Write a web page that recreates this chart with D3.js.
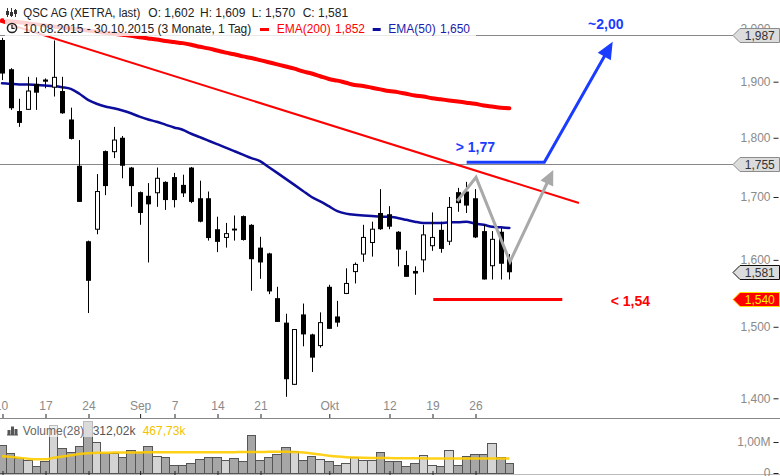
<!DOCTYPE html>
<html><head><meta charset="utf-8">
<script src="https://cdn.jsdelivr.net/npm/d3@7"></script>
<style>
html,body{margin:0;padding:0;background:#fff;}
svg{display:block;font-family:"Liberation Sans",Arial,Helvetica,sans-serif;}
</style></head><body>
<svg id="c" width="780" height="476"></svg>
<script>
// ---------- DATA ----------
const title = "QSC AG (XETRA, last)";
const period = "10.08.2015 - 30.10.2015 (3 Monate, 1 Tag)";
const tickIdx = [0,5,10,16,20,25,30,38,45,50,55];
const tickLab = ["10","17","24","Sep","7","14","21","Okt","12","19","26"];
const priceTicks = [1.4,1.5,1.6,1.7,1.8,1.9,2.0];

const open  = [1.978,1.923,1.847,1.850,1.896,1.904,1.890,1.883,1.832,1.752,1.629,1.648,1.777,1.776,1.800,1.749,1.708,1.702,1.707,1.725,1.733,1.720,1.749,1.698,1.698,1.648,1.635,1.649,1.669,1.655,1.619,1.610,1.542,1.506,1.419,1.518,1.489,1.473,1.559,1.515,1.549,1.582,1.609,1.627,1.674,1.672,1.644,1.592,1.583,1.600,1.622,1.647,1.629,1.708,1.709,1.698,1.645,1.591,1.644,1.602];
const high  = [1.982,1.925,1.869,1.909,1.908,1.906,1.977,1.909,1.853,1.796,1.630,1.738,1.778,1.819,1.803,1.750,1.709,1.723,1.749,1.726,1.740,1.737,1.750,1.727,1.709,1.668,1.658,1.670,1.670,1.656,1.636,1.611,1.559,1.519,1.496,1.534,1.490,1.521,1.562,1.538,1.587,1.596,1.655,1.660,1.713,1.685,1.645,1.614,1.590,1.655,1.675,1.660,1.700,1.715,1.725,1.713,1.655,1.645,1.650,1.609];
const low   = [1.903,1.849,1.819,1.849,1.849,1.888,1.873,1.842,1.797,1.692,1.520,1.640,1.703,1.765,1.731,1.684,1.655,1.596,1.684,1.679,1.683,1.700,1.690,1.659,1.630,1.612,1.619,1.630,1.630,1.553,1.571,1.548,1.507,1.402,1.418,1.472,1.436,1.470,1.497,1.500,1.548,1.564,1.597,1.605,1.647,1.648,1.590,1.574,1.547,1.581,1.614,1.611,1.623,1.676,1.674,1.634,1.570,1.570,1.570,1.570];
const close = [1.915,1.852,1.826,1.883,1.880,1.900,1.908,1.843,1.798,1.692,1.568,1.709,1.718,1.796,1.752,1.718,1.674,1.688,1.731,1.695,1.695,1.706,1.692,1.660,1.634,1.628,1.641,1.646,1.631,1.601,1.596,1.552,1.507,1.426,1.496,1.489,1.456,1.506,1.497,1.506,1.564,1.593,1.635,1.648,1.648,1.652,1.616,1.574,1.579,1.639,1.635,1.617,1.683,1.690,1.686,1.635,1.570,1.632,1.594,1.581];

const ema200 = [2.016,2.014,2.012,2.010,2.008,2.006,2.004,2.002,2.000,1.998,1.996,1.994,1.992,1.990,1.988,1.986,1.983,1.981,1.979,1.976,1.974,1.972,1.969,1.965,1.962,1.958,1.954,1.951,1.947,1.944,1.940,1.936,1.932,1.928,1.924,1.919,1.915,1.910,1.905,1.902,1.898,1.894,1.892,1.889,1.886,1.883,1.881,1.878,1.875,1.873,1.870,1.868,1.866,1.864,1.862,1.860,1.857,1.855,1.853,1.852];
const ema50  = [1.897,1.896,1.895,1.895,1.894,1.893,1.892,1.890,1.887,1.878,1.867,1.860,1.855,1.852,1.848,1.843,1.837,1.832,1.828,1.823,1.818,1.814,1.807,1.801,1.795,1.789,1.783,1.777,1.771,1.765,1.760,1.750,1.740,1.730,1.720,1.710,1.700,1.693,1.685,1.677,1.673,1.671,1.670,1.669,1.668,1.668,1.666,1.663,1.660,1.658,1.658,1.658,1.659,1.659,1.660,1.657,1.655,1.652,1.651,1.650];

// volume in thousands
const volume = [893,645,473,409,215,376,1538,796,667,860,1688,989,645,645,505,731,667,860,538,505,247,247,312,441,505,505,409,473,376,1215,409,505,602,828,699,409,538,441,376,247,312,505,409,409,667,376,376,215,312,570,247,215,731,247,538,602,602,957,505,312.02];
const volumeMA = [540,520,490,460,440,440,490,530,570,610,640,650,655,660,660,662,665,667,667,667,667,667,667,667,667,668,670,672,675,678,680,682,684,684,675,660,630,595,560,530,510,500,490,485,485,480,478,475,473,472,471,470,470,470,470,469,469,468,468,467.73];
const volTicks = [0,1000];

// horizontal levels and price markers
const hLines = [1.987, 1.755];
const markers = [
  {v:1.987, fill:"#dcdcdc", stroke:"#8c8c8c", text:"#333"},
  {v:1.755, fill:"#dcdcdc", stroke:"#8c8c8c", text:"#333"},
  {v:1.581, fill:"#dcdcdc", stroke:"#111",    text:"#333"},
  {v:1.540, fill:"#ff0000", stroke:"#ffe000", text:"#ffee00"}
];
// drawn annotations, in (bar index, price)
const trendLine = [[-0.23,2.0136],[67.09,1.6902]];
const supportLevel = 1.540;
const supportFrom = 50.15, supportTo = 65.15;
const bullArrow = [[54.03,1.758],[63.06,1.758],[71.01,1.9748]];
const zigzag = [[52.94,1.6935],[55.12,1.7326],[59.07,1.5971],[64.10,1.7449]];
const notes = [
  {i:52.75, v:1.7754, t:"> 1,77", c:"#1a3cff"},
  {i:68.15, v:1.9991, t:"~2,00", c:"#1a3cff"},
  {i:70.78, v:1.5304, t:"< 1,54", c:"#ff0000"}
];

// ---------- SCALES ----------
const svg = d3.select("#c");
const W = 780, H = 476;
const x = d3.scaleLinear().domain([0,59]).range([2,509.4]);
const y = d3.scaleLog().domain([1.4,1.9]).range([398.3,81.7]);
const yv = d3.scaleLinear().domain([0,1000]).range([473,442]);
const fmt3 = d => d3.format(".3f")(d).replace(".",",");
const fmt2 = d => d3.format(".2f")(d).replace(".",",");

svg.append("rect").attr("width",W).attr("height",H).attr("fill","#fff");

svg.append("defs").append("clipPath").attr("id","pclip")
  .append("rect").attr("x",0).attr("y",0).attr("width",733).attr("height",418);

const plot = svg.append("g").attr("clip-path","url(#pclip)");

// horizontal lines
plot.selectAll("line.h").data(hLines).join("line")
  .attr("x1",0).attr("x2",733)
  .attr("y1",d=>Math.round(y(d))+0.5).attr("y2",d=>Math.round(y(d))+0.5)
  .attr("stroke","#888").attr("stroke-width",1);

// EMA200
const idxLine = d3.line().x((d,i)=>x(i)).y(d=>y(d)).curve(d3.curveMonotoneX);
plot.append("path").attr("d",idxLine(ema200)).attr("fill","none")
  .attr("stroke","#ff0000").attr("stroke-width",4).attr("stroke-linecap","round");

// trend line
const ptLine = d3.line().x(d=>x(d[0])).y(d=>y(d[1]));
plot.append("path").attr("d",ptLine(trendLine)).attr("fill","none")
  .attr("stroke","#ff0000").attr("stroke-width",2);

// EMA50
plot.append("path").attr("d",idxLine(ema50)).attr("fill","none")
  .attr("stroke","#0d0d9c").attr("stroke-width",2.5).attr("stroke-linecap","round");

// candles
const cg = plot.append("g");
open.forEach((o,i)=>{
  const c = close[i];
  const cx = Math.round(x(i));
  cg.append("line").attr("x1",cx+0.5).attr("x2",cx+0.5)
    .attr("y1",y(high[i])).attr("y2",y(low[i])).attr("stroke","#000").attr("stroke-width",1);
  const top = y(Math.max(o,c)), bot = y(Math.min(o,c));
  if (c >= o) {
    cg.append("rect").attr("x",cx-1.5).attr("y",top)
      .attr("width",4).attr("height",Math.max(1,bot-top))
      .attr("fill","#fff").attr("stroke","#000").attr("stroke-width",1);
  } else {
    cg.append("rect").attr("x",cx-2).attr("y",top)
      .attr("width",5).attr("height",Math.max(1.5,bot-top))
      .attr("fill","#000");
  }
});

// annotations
const ann = plot.append("g");
ann.append("line")
  .attr("x1",x(supportFrom)).attr("x2",x(supportTo))
  .attr("y1",y(supportLevel)).attr("y2",y(supportLevel))
  .attr("stroke","#ff0000").attr("stroke-width",3);

function arrow(pts, color, width, headLen, headW){
  const P = pts.map(p=>[x(p[0]), y(p[1])]);
  const n = P.length;
  const [x1,y1] = P[n-2], [x2,y2] = P[n-1];
  const dx = x2-x1, dy = y2-y1, L = Math.hypot(dx,dy), ux = dx/L, uy = dy/L;
  const bx = x2-ux*headLen, by = y2-uy*headLen;
  const lp = P.slice(0,n-1).concat([[bx+ux*2, by+uy*2]]);
  ann.append("path").attr("d",d3.line()(lp)).attr("fill","none")
    .attr("stroke",color).attr("stroke-width",width).attr("stroke-linejoin","miter");
  ann.append("path").attr("d",d3.line()([[x2,y2],[bx-uy*headW,by+ux*headW],[bx+uy*headW,by-ux*headW]])+"Z")
    .attr("fill",color);
}
arrow(zigzag, "#a9a9a9", 3, 15, 7);
arrow(bullArrow, "#1a3cff", 3, 17, 7.5);

ann.selectAll("text.note").data(notes).join("text")
  .attr("x",d=>x(d.i)).attr("y",d=>y(d.v))
  .attr("fill",d=>d.c).attr("font-size","14px").attr("font-weight","bold")
  .text(d=>d.t);

// ---------- PRICE AXIS ----------
const yAxis = d3.axisLeft(y).tickValues(priceTicks).tickFormat(fmt3).tickSize(5).tickPadding(3);
const ya = svg.append("g").attr("transform","translate(778.5,0)").call(yAxis);
ya.select(".domain").remove();
ya.selectAll("line").attr("stroke","#222");
ya.selectAll("text").attr("fill","#8a8a8a").attr("font-size","12px").attr("font-family","Liberation Sans, Arial, sans-serif");

// markers
const mg = svg.append("g");
markers.forEach(m=>{
  const cy = Math.round(y(m.v))+0.5, h = 14, tip = 733, lft = 740, rgt = 779.5;
  mg.append("path")
    .attr("d",`M${tip},${cy}L${lft},${cy-h/2}L${rgt},${cy-h/2}L${rgt},${cy+h/2}L${lft},${cy+h/2}Z`)
    .attr("fill",m.fill).attr("stroke",m.stroke).attr("stroke-width",1);
  mg.append("text").attr("x",(lft+rgt)/2).attr("y",cy).attr("dy","0.36em")
    .attr("text-anchor","middle").attr("font-size","12px").attr("fill",m.text).text(fmt3(m.v));
});

// ---------- X AXIS ----------
svg.append("line").attr("x1",0).attr("x2",W).attr("y1",418.5).attr("y2",418.5).attr("stroke","#888");
const xAxis = d3.axisTop(x).tickValues(tickIdx).tickFormat((d,i)=>tickLab[i]).tickSize(4).tickPadding(4);
const xa = svg.append("g").attr("transform","translate(0.5,418)").call(xAxis);
xa.select(".domain").remove();
xa.selectAll("line").attr("stroke","#222");
xa.selectAll("text").attr("fill","#8a8a8a").attr("font-size","12px").attr("font-family","Liberation Sans, Arial, sans-serif");
xa.selectAll("text").filter((d,i)=>i===0).attr("dx","-1.5");

// ---------- VOLUME ----------
const vg = svg.append("g");
const bw = x(1)-x(0);
vg.selectAll("rect.v").data(volume).join("rect")
  .attr("x",(d,i)=>Math.round(x(i)-bw/2-0.5)+0.5)
  .attr("y",d=>Math.round(yv(d))+0.5)
  .attr("width",(d,i)=>Math.round(x(i)+bw/2-0.5)-Math.round(x(i)-bw/2-0.5))
  .attr("height",d=>Math.max(0,Math.round(yv(0))-Math.round(yv(d))))
  .attr("fill",(d,i)=> close[i]>=open[i] ? "#d4d4d4" : "#a6a6a6")
  .attr("stroke","#555").attr("stroke-width",1);

vg.append("path").attr("d",d3.line().x((d,i)=>x(i)).y(d=>yv(d)).curve(d3.curveMonotoneX)(volumeMA))
  .attr("fill","none").attr("stroke","#ffcc00").attr("stroke-width",2.5).attr("opacity",0.9);

svg.append("line").attr("x1",0).attr("x2",W).attr("y1",474.5).attr("y2",474.5).attr("stroke","#bbb");
const xb = svg.append("g").attr("transform","translate(0.5,475)").call(d3.axisTop(x).tickValues(tickIdx).tickFormat("").tickSize(4));
xb.select(".domain").remove();
xb.selectAll("line").attr("stroke","#222");

const vAxis = d3.axisLeft(yv).tickValues(volTicks).tickFormat(d=> d===0 ? "0" : fmt2(d/1000)+"M").tickSize(5).tickPadding(3);
const va = svg.append("g").attr("transform","translate(778.5,0)").call(vAxis);
va.select(".domain").remove();
va.selectAll("line").attr("stroke","#222");
va.selectAll("text").attr("fill","#8a8a8a").attr("font-size","12px").attr("font-family","Liberation Sans, Arial, sans-serif");

// volume legend
svg.append("rect").attr("x",5).attr("y",421).attr("width",184).attr("height",16).attr("fill","#fff").attr("opacity",0.6);
const vi = svg.append("g").attr("fill","#555");
[[7.5,430,3,5],[11,426.5,3,8.5],[14.5,429,3,6]].forEach(b=>vi.append("rect").attr("x",b[0]).attr("y",b[1]).attr("width",b[2]).attr("height",b[3]));
vi.append("rect").attr("x",7).attr("y",434.5).attr("width",11).attr("height",1);
svg.append("text").attr("x",22.7).attr("y",434.5).attr("font-size","12px").attr("fill","#666").text("Volume(28)");
svg.append("text").attr("x",92.7).attr("y",434.5).attr("font-size","12px").attr("fill","#555").text(fmt2(volume[59])+"k");
svg.append("text").attr("x",142.7).attr("y",434.5).attr("font-size","12px").attr("fill","#f2c200").text(fmt2(volumeMA[59])+"k");

// ---------- HEADER ----------
svg.append("rect").attr("x",4).attr("y",3).attr("width",346).attr("height",17).attr("fill","#fff").attr("opacity",0.85);
svg.append("rect").attr("x",5).attr("y",20).attr("width",471).attr("height",16).attr("fill","#fff").attr("opacity",0.82);
const hd = svg.append("g").attr("font-size","12px").attr("fill","#222");
// candle icon
const ic = svg.append("g").attr("stroke","#333").attr("fill","#333");
[[7.5,8,17,11,15],[11.5,8,17,12,16],[15.5,9,17,10,14]].forEach(c=>{
  ic.append("line").attr("x1",c[0]).attr("x2",c[0]).attr("y1",c[1]).attr("y2",c[2]).attr("stroke-width",1);
  ic.append("rect").attr("x",c[0]-1.5).attr("y",c[3]).attr("width",3).attr("height",c[4]-c[3]).attr("stroke","none");
});
// clock icon
const ck = svg.append("g").attr("stroke","#222").attr("fill","none").attr("stroke-width",1.5);
ck.append("circle").attr("cx",12).attr("cy",28).attr("r",4.6);
ck.append("path").attr("d","M12,25V28.3H14.6").attr("stroke-width",1.3);

hd.append("text").attr("x",23.3).attr("y",17).attr("textLength",117).attr("lengthAdjust","spacingAndGlyphs").text(title);
hd.append("text").attr("x",148.3).attr("y",17).text("O: "+fmt3(open[59]));
hd.append("text").attr("x",200).attr("y",17).text("H: "+fmt3(high[59]));
hd.append("text").attr("x",251.7).attr("y",17).text("L: "+fmt3(low[59]));
hd.append("text").attr("x",302.7).attr("y",17).text("C: "+fmt3(close[59]));
hd.append("text").attr("x",23.3).attr("y",33).text(period);
svg.append("rect").attr("x",260).attr("y",28).attr("width",9).attr("height",3).attr("fill","#ff0000");
hd.append("text").attr("x",276.7).attr("y",33).attr("fill","#ff0000").text("EMA(200)");
hd.append("text").attr("x",335).attr("y",33).attr("fill","#ff0000").text(fmt3(ema200[59]));
svg.append("rect").attr("x",372.7).attr("y",28).attr("width",8).attr("height",3).attr("fill","#0d0d9c");
hd.append("text").attr("x",388.3).attr("y",33).attr("fill","#1c1cae").text("EMA(50)");
hd.append("text").attr("x",440).attr("y",33).attr("fill","#1c1cae").text(fmt3(ema50[59]));
</script>
</body></html>
